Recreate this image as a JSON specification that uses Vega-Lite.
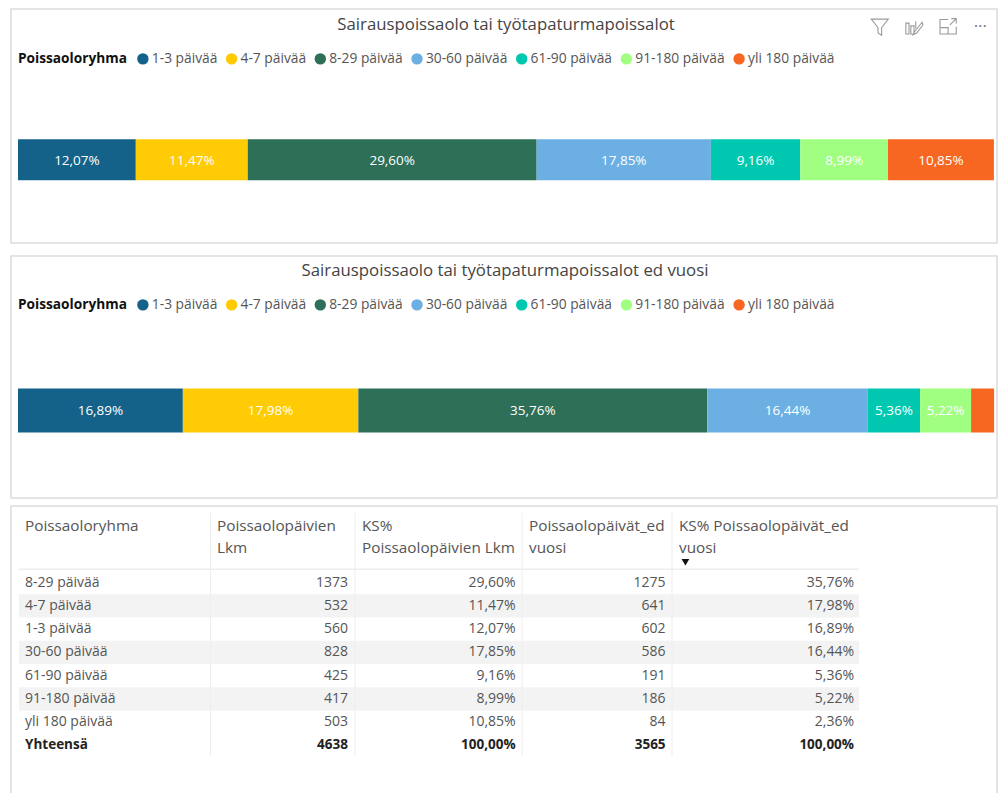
{
"$schema":"https://vega.github.io/schema/vega-lite/v6.json",
"padding":{"left":10,"top":8,"right":0,"bottom":0},
"background":"white",
"spacing":6,
"config":{"view":{"stroke":"#dcdcdc","strokeWidth":1.5},"font":"Open Sans","concat":{"spacing":11},
 "legend":{"orient":"none","direction":"horizontal","columns":7,"gridAlign":"none","symbolType":"circle","symbolSize":130,"symbolStrokeWidth":0,"columnPadding":6.7,"labelOffset":2,"labelFontSize":13.8,"labelColor":"#555555","labelFont":"Open Sans","titleFontSize":13.7,"titleFontWeight":"bold","titleColor":"#111111","titleOrient":"left","titlePadding":9,"labelLimit":200,"titleFont":"Open Sans"},
 "title":{"fontSize":16.8,"fontWeight":"normal","color":"#444444","font":"Open Sans","anchor":"middle","baseline":"middle"}},
"datasets":{
 "yksi":[{"kohta":"kuvake"}],
 "nyt":[
  {"Poissaoloryhma":"1-3 päivää","ord":1,"osuus":12.07,"label":"12,07%"},
  {"Poissaoloryhma":"4-7 päivää","ord":2,"osuus":11.47,"label":"11,47%"},
  {"Poissaoloryhma":"8-29 päivää","ord":3,"osuus":29.60,"label":"29,60%"},
  {"Poissaoloryhma":"30-60 päivää","ord":4,"osuus":17.85,"label":"17,85%"},
  {"Poissaoloryhma":"61-90 päivää","ord":5,"osuus":9.16,"label":"9,16%"},
  {"Poissaoloryhma":"91-180 päivää","ord":6,"osuus":8.99,"label":"8,99%"},
  {"Poissaoloryhma":"yli 180 päivää","ord":7,"osuus":10.85,"label":"10,85%"}],
 "ed":[
  {"Poissaoloryhma":"1-3 päivää","ord":1,"osuus":16.89,"label":"16,89%"},
  {"Poissaoloryhma":"4-7 päivää","ord":2,"osuus":17.98,"label":"17,98%"},
  {"Poissaoloryhma":"8-29 päivää","ord":3,"osuus":35.76,"label":"35,76%"},
  {"Poissaoloryhma":"30-60 päivää","ord":4,"osuus":16.44,"label":"16,44%"},
  {"Poissaoloryhma":"61-90 päivää","ord":5,"osuus":5.36,"label":"5,36%"},
  {"Poissaoloryhma":"91-180 päivää","ord":6,"osuus":5.22,"label":"5,22%"},
  {"Poissaoloryhma":"yli 180 päivää","ord":7,"osuus":2.36,"label":""}],
 "otsikot":[
  {"col":0,"text":"Poissaoloryhma"},
  {"col":1,"text":"Poissaolopäivien\nLkm"},
  {"col":2,"text":"KS%\nPoissaolopäivien Lkm"},
  {"col":3,"text":"Poissaolopäivät_ed\nvuosi"},
  {"col":4,"text":"KS% Poissaolopäivät_ed\nvuosi"}],
 "solut":[
  {"row":"8-29 päivää","col":0,"text":"8-29 päivää"},{"row":"8-29 päivää","col":1,"text":"1373"},{"row":"8-29 päivää","col":2,"text":"29,60%"},{"row":"8-29 päivää","col":3,"text":"1275"},{"row":"8-29 päivää","col":4,"text":"35,76%"},
  {"row":"4-7 päivää","col":0,"text":"4-7 päivää"},{"row":"4-7 päivää","col":1,"text":"532"},{"row":"4-7 päivää","col":2,"text":"11,47%"},{"row":"4-7 päivää","col":3,"text":"641"},{"row":"4-7 päivää","col":4,"text":"17,98%"},
  {"row":"1-3 päivää","col":0,"text":"1-3 päivää"},{"row":"1-3 päivää","col":1,"text":"560"},{"row":"1-3 päivää","col":2,"text":"12,07%"},{"row":"1-3 päivää","col":3,"text":"602"},{"row":"1-3 päivää","col":4,"text":"16,89%"},
  {"row":"30-60 päivää","col":0,"text":"30-60 päivää"},{"row":"30-60 päivää","col":1,"text":"828"},{"row":"30-60 päivää","col":2,"text":"17,85%"},{"row":"30-60 päivää","col":3,"text":"586"},{"row":"30-60 päivää","col":4,"text":"16,44%"},
  {"row":"61-90 päivää","col":0,"text":"61-90 päivää"},{"row":"61-90 päivää","col":1,"text":"425"},{"row":"61-90 päivää","col":2,"text":"9,16%"},{"row":"61-90 päivää","col":3,"text":"191"},{"row":"61-90 päivää","col":4,"text":"5,36%"},
  {"row":"91-180 päivää","col":0,"text":"91-180 päivää"},{"row":"91-180 päivää","col":1,"text":"417"},{"row":"91-180 päivää","col":2,"text":"8,99%"},{"row":"91-180 päivää","col":3,"text":"186"},{"row":"91-180 päivää","col":4,"text":"5,22%"},
  {"row":"yli 180 päivää","col":0,"text":"yli 180 päivää"},{"row":"yli 180 päivää","col":1,"text":"503"},{"row":"yli 180 päivää","col":2,"text":"10,85%"},{"row":"yli 180 päivää","col":3,"text":"84"},{"row":"yli 180 päivää","col":4,"text":"2,36%"},
  {"row":"Yhteensä","col":0,"text":"Yhteensä"},{"row":"Yhteensä","col":1,"text":"4638"},{"row":"Yhteensä","col":2,"text":"100,00%"},{"row":"Yhteensä","col":3,"text":"3565"},{"row":"Yhteensä","col":4,"text":"100,00%"}],
 "raidat":[{"row":"4-7 päivää"},{"row":"30-60 päivää"},{"row":"91-180 päivää"}],
 "rajat":[{"raja":1},{"raja":2},{"raja":3},{"raja":4}]
},
"vconcat":[
 {"vconcat":[
  {"width":986,"height":234,
   "title":{"text":"Sairauspoissaolo tai työtapaturmapoissalot","offset":-25,"dx":2},
   "layer":[
    {"data":{"name":"nyt"},"mark":{"type":"bar","size":41,"orient":"horizontal"},
     "encoding":{
      "x":{"field":"osuus","type":"quantitative","stack":"zero","axis":null,"scale":{"domain":[-0.717,100.307],"nice":false,"zero":false}},
      "y":{"datum":34.9,"type":"quantitative","axis":null,"scale":{"domain":[0,100],"nice":false}},
      "order":{"field":"ord"},
      "color":{"field":"Poissaoloryhma","type":"nominal","scale":{"domain":["1-3 päivää","4-7 päivää","8-29 päivää","30-60 päivää","61-90 päivää","91-180 päivää","yli 180 päivää"],"range":["#14628a","#ffcb05","#2e6f57","#6cb0e3","#00c8b0","#a0ff80","#f76721"]},
       "legend":{"title":"Poissaoloryhma","legendX":7,"legendY":43}}}},
    {"data":{"name":"nyt"},"mark":{"type":"text","color":"white","fontSize":13.5,"baseline":"middle","dy":1.5},
     "encoding":{
      "x":{"field":"osuus","type":"quantitative","stack":"zero","bandPosition":0.5},
      "y":{"datum":34.9,"type":"quantitative"},
      "order":{"field":"ord"},
      "detail":{"field":"Poissaoloryhma"},
      "text":{"field":"label"}}},
    {"data":{"name":"yksi"},"mark":{"type":"point","filled":false,"opacity":1,"stroke":"#9a9a9a","strokeWidth":1.1,"size":324,"shape":"M-0.95,-0.85L0.95,-0.85L0.2,0.1L0.2,0.95L-0.2,0.7L-0.2,0.1Z"},
     "encoding":{"x":{"datum":88.3,"type":"quantitative"},"y":{"datum":94.3,"type":"quantitative"}}},
    {"data":{"name":"yksi"},"mark":{"type":"point","filled":false,"opacity":1,"stroke":"#9a9a9a","strokeWidth":1.1,"size":324,"shape":"M-0.9,-0.4L-0.9,0.8L-0.55,0.8L-0.55,-0.4ZM-0.35,-0.1L-0.35,0.8L0,0.8L0,-0.1ZM0.2,-0.6L0.2,0.2M0.9,-0.5L0.1,0.5L-0.1,0.9L0.3,0.7L1,-0.2Z"},
     "encoding":{"x":{"datum":91.8,"type":"quantitative"},"y":{"datum":94.3,"type":"quantitative"}}},
    {"data":{"name":"yksi"},"mark":{"type":"point","filled":false,"opacity":1,"stroke":"#9a9a9a","strokeWidth":1.1,"size":324,"shape":"M0,-0.8L-0.9,-0.8L-0.9,0.8L0.9,0.8L0.9,0M-0.9,0.1L0,0.1L0,0.8M0.2,-0.2L0.9,-0.9M0.35,-0.9L0.9,-0.9L0.9,-0.35"},
     "encoding":{"x":{"datum":95.3,"type":"quantitative"},"y":{"datum":94.3,"type":"quantitative"}}},
    {"data":{"name":"yksi"},"mark":{"type":"text","text":"···","fontSize":17,"color":"#777777","baseline":"middle"},
     "encoding":{"x":{"datum":98.6,"type":"quantitative"},"y":{"datum":94.3,"type":"quantitative"}}}
   ]},
  {"width":986,"height":242,
   "title":{"text":"Sairauspoissaolo tai työtapaturmapoissalot ed vuosi","offset":-24,"dx":1},
   "data":{"name":"ed"},
   "layer":[
    {"mark":{"type":"bar","size":44,"orient":"horizontal"},
     "encoding":{
      "x":{"field":"osuus","type":"quantitative","stack":"zero","axis":null,"scale":{"domain":[-0.717,100.307],"nice":false,"zero":false}},
      "y":{"datum":35.55,"type":"quantitative","axis":null,"scale":{"domain":[0,100],"nice":false}},
      "order":{"field":"ord"},
      "color":{"field":"Poissaoloryhma","type":"nominal","scale":{"domain":["1-3 päivää","4-7 päivää","8-29 päivää","30-60 päivää","61-90 päivää","91-180 päivää","yli 180 päivää"],"range":["#14628a","#ffcb05","#2e6f57","#6cb0e3","#00c8b0","#a0ff80","#f76721"]},
       "legend":{"title":"Poissaoloryhma","legendX":7,"legendY":42}}}},
    {"mark":{"type":"text","color":"white","fontSize":13.5,"baseline":"middle"},
     "encoding":{
      "x":{"field":"osuus","type":"quantitative","stack":"zero","bandPosition":0.5},
      "y":{"datum":35.55,"type":"quantitative"},
      "order":{"field":"ord"},
      "detail":{"field":"Poissaoloryhma"},
      "text":{"field":"label"}}}
   ]}
  ],
  "resolve":{"scale":{"color":"independent","x":"independent","y":"independent"},"legend":{"color":"independent"}}
 },
 {"width":986,"height":290,
  "resolve":{"scale":{"x":"independent","y":"independent"}},
  "layer":[
   {"data":{"name":"raidat"},"mark":{"type":"rect","color":"#f3f3f3"},
    "encoding":{
     "y":{"field":"row","type":"nominal","axis":null,"scale":{"type":"band","domain":["8-29 päivää","4-7 päivää","1-3 päivää","30-60 päivää","61-90 päivää","91-180 päivää","yli 180 päivää","Yhteensä"],"range":[65,251],"padding":0}},
     "x":{"datum":0.81,"type":"quantitative","axis":null,"scale":{"domain":[0,100],"nice":false}},
     "x2":{"datum":86}}},
   {"data":{"name":"rajat"},"mark":{"type":"rule","color":"#eeeeee","strokeWidth":1},
    "encoding":{
     "x":{"field":"raja","type":"quantitative","axis":null,"scale":{"domain":[1,2,3,4],"range":[199.5,344,511,661],"nice":false,"zero":false}},
     "y":{"datum":2.4,"type":"quantitative","axis":null,"scale":{"domain":[100,0],"nice":false}},
     "y2":{"datum":86.2}}},
   {"data":{"name":"yksi"},"mark":{"type":"rule","color":"#eeeeee","strokeWidth":1.5},"encoding":{
     "x":{"datum":0.81,"type":"quantitative","axis":null,"scale":{"domain":[0,100],"nice":false}},
     "x2":{"datum":86},
     "y":{"datum":21.8,"type":"quantitative","axis":null,"scale":{"domain":[100,0],"nice":false}}}},
   {"data":{"name":"otsikot"},"mark":{"type":"text","align":"left","baseline":"top","fontSize":15.3,"color":"#555555","lineBreak":"\n","lineHeight":22},
    "encoding":{
     "x":{"field":"col","type":"quantitative","axis":null,"scale":{"domain":[0,1,2,3,4],"range":[14,206,351,518,668],"nice":false,"zero":false}},
     "y":{"datum":4.5,"type":"quantitative","axis":null,"scale":{"domain":[100,0],"nice":false}},
     "text":{"field":"text"}}},
   {"data":{"name":"yksi"},"mark":{"type":"point","shape":"triangle-down","filled":true,"opacity":1,"color":"#111111","size":60},"encoding":{
     "x":{"datum":68.4,"type":"quantitative","axis":null,"scale":{"domain":[0,100],"nice":false}},
     "y":{"datum":19.4,"type":"quantitative","axis":null,"scale":{"domain":[100,0],"nice":false}}}},
   {"data":{"name":"solut"},"transform":[{"filter":"datum.row!='Yhteensä' && datum.col==0"}],
    "mark":{"type":"text","align":"left","baseline":"middle","fontSize":14,"color":"#555555"},
    "encoding":{
     "x":{"field":"col","type":"quantitative","axis":null,"scale":{"domain":[0,1],"range":[14,337],"nice":false,"zero":false}},
     "y":{"field":"row","type":"nominal","axis":null,"scale":{"type":"band","domain":["8-29 päivää","4-7 päivää","1-3 päivää","30-60 päivää","61-90 päivää","91-180 päivää","yli 180 päivää","Yhteensä"],"range":[65,251],"padding":0}},
     "text":{"field":"text"}}},
   {"data":{"name":"solut"},"transform":[{"filter":"datum.row!='Yhteensä' && datum.col>0"}],
    "mark":{"type":"text","align":"right","baseline":"middle","fontSize":14,"color":"#555555"},
    "encoding":{
     "x":{"field":"col","type":"quantitative","axis":null,"scale":{"domain":[0,1,2,3,4],"range":[14,337,504.6,654.6,843],"nice":false,"zero":false}},
     "y":{"field":"row","type":"nominal","axis":null,"scale":{"type":"band","domain":["8-29 päivää","4-7 päivää","1-3 päivää","30-60 päivää","61-90 päivää","91-180 päivää","yli 180 päivää","Yhteensä"],"range":[65,251],"padding":0}},
     "text":{"field":"text"}}},
   {"data":{"name":"solut"},"transform":[{"filter":"datum.row=='Yhteensä' && datum.col==0"}],
    "mark":{"type":"text","align":"left","baseline":"middle","fontSize":13.5,"fontWeight":"bold","color":"#222222"},
    "encoding":{
     "x":{"field":"col","type":"quantitative","axis":null,"scale":{"domain":[0,1],"range":[14,337],"nice":false,"zero":false}},
     "y":{"field":"row","type":"nominal","axis":null,"scale":{"type":"band","domain":["8-29 päivää","4-7 päivää","1-3 päivää","30-60 päivää","61-90 päivää","91-180 päivää","yli 180 päivää","Yhteensä"],"range":[65,251],"padding":0}},
     "text":{"field":"text"}}},
   {"data":{"name":"solut"},"transform":[{"filter":"datum.row=='Yhteensä' && datum.col>0"}],
    "mark":{"type":"text","align":"right","baseline":"middle","fontSize":13.5,"fontWeight":"bold","color":"#222222"},
    "encoding":{
     "x":{"field":"col","type":"quantitative","axis":null,"scale":{"domain":[0,1,2,3,4],"range":[14,337,504.6,654.6,843],"nice":false,"zero":false}},
     "y":{"field":"row","type":"nominal","axis":null,"scale":{"type":"band","domain":["8-29 päivää","4-7 päivää","1-3 päivää","30-60 päivää","61-90 päivää","91-180 päivää","yli 180 päivää","Yhteensä"],"range":[65,251],"padding":0}},
     "text":{"field":"text"}}}
  ]}
]
}
